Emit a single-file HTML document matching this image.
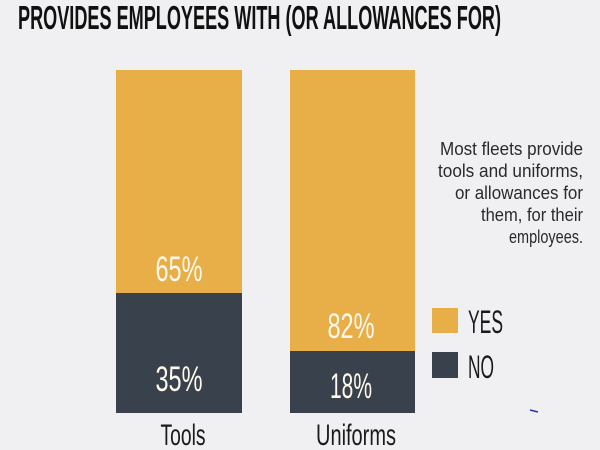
<!DOCTYPE html>
<html><head><meta charset="utf-8"><style>
html,body{margin:0;padding:0;background:#F0F0F2;}
svg{display:block;}
</style></head><body>
<svg width="600" height="450" viewBox="0 0 600 450" xmlns="http://www.w3.org/2000/svg">
<rect width="600" height="450" fill="#F0F0F2"/>
<text x="18" y="29" font-family="Liberation Sans, sans-serif" font-weight="bold" font-size="33" fill="#111" textLength="483" lengthAdjust="spacingAndGlyphs">PROVIDES EMPLOYEES WITH (OR ALLOWANCES FOR)</text>
<rect x="116" y="70" width="126" height="223" fill="#E8AE48"/>
<rect x="116" y="293" width="126" height="120" fill="#39424C"/>
<rect x="290" y="70" width="125" height="281" fill="#E8AE48"/>
<rect x="290" y="351" width="125" height="62" fill="#39424C"/>
<g font-family="Liberation Sans, sans-serif" font-size="35" fill="#FFF8EC" text-anchor="middle">
<text x="179" y="281" textLength="47" lengthAdjust="spacingAndGlyphs">65%</text>
<text x="179" y="391" textLength="47" lengthAdjust="spacingAndGlyphs">35%</text>
<text x="351" y="338" textLength="47" lengthAdjust="spacingAndGlyphs">82%</text>
<text x="351" y="398" textLength="42" lengthAdjust="spacingAndGlyphs">18%</text>
</g>
<g font-family="Liberation Sans, sans-serif" font-size="30" fill="#1a1a1a" text-anchor="middle">
<text x="183" y="445" textLength="45" lengthAdjust="spacingAndGlyphs">Tools</text>
<text x="356" y="445" textLength="80" lengthAdjust="spacingAndGlyphs">Uniforms</text>
</g>
<rect x="432" y="308" width="26" height="25" fill="#E8AE48"/>
<rect x="432" y="352" width="26" height="26" fill="#39424C"/>
<g font-family="Liberation Sans, sans-serif" font-size="32" fill="#1a1a1a">
<text x="468" y="333" textLength="35" lengthAdjust="spacingAndGlyphs">YES</text>
<text x="468" y="378" textLength="26" lengthAdjust="spacingAndGlyphs">NO</text>
</g>
<g font-family="Liberation Sans, sans-serif" font-size="18" fill="#2a2a2a" text-anchor="end">
<text x="583" y="155" textLength="143" lengthAdjust="spacingAndGlyphs">Most fleets provide</text>
<text x="583" y="177" textLength="145" lengthAdjust="spacingAndGlyphs">tools and uniforms,</text>
<text x="583" y="199" textLength="128" lengthAdjust="spacingAndGlyphs">or allowances for</text>
<text x="583" y="221" textLength="102" lengthAdjust="spacingAndGlyphs">them, for their</text>
<text x="583" y="243" textLength="74" lengthAdjust="spacingAndGlyphs">employees.</text>
</g>
<line x1="530" y1="410" x2="538" y2="412" stroke="#2233aa" stroke-width="1.5"/>
</svg>
</body></html>
